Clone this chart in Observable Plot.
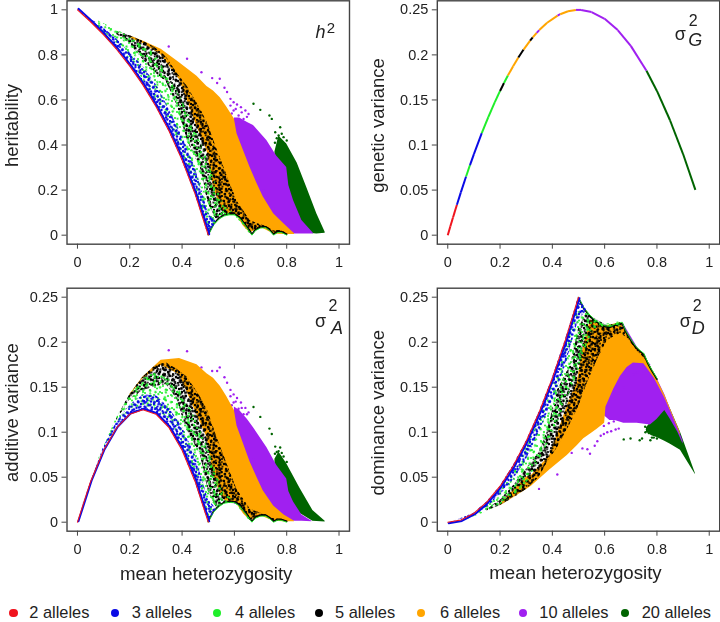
<!DOCTYPE html>
<html><head><meta charset="utf-8">
<script src="https://cdn.jsdelivr.net/npm/d3@7"></script>
<script src="https://cdn.jsdelivr.net/npm/@observablehq/plot@0.6"></script>
<style>
html,body{margin:0;padding:0;background:#fff}
#page{position:relative;width:720px;height:622px;overflow:hidden;font-family:"Liberation Sans",Arial,sans-serif;color:#222}
#page svg.plot{position:absolute;overflow:visible;background:transparent;filter:blur(0.4px)}
.lg{position:absolute;top:603px;font-size:16.4px;line-height:19px;white-space:nowrap}
.sw{position:absolute;top:608.5px;width:8.5px;height:8.5px;border-radius:50%}
</style></head><body><div id="page"></div>
<svg width="0" height="0" style="position:absolute"><defs>
<pattern id="spkBlack" width="19" height="17" patternUnits="userSpaceOnUse"><g fill="#000"><circle cx="1" cy="2" r="1.2"/><circle cx="3" cy="3" r="1.2"/><circle cx="7" cy="1" r="1.1"/><circle cx="11" cy="3" r="1.2"/><circle cx="12.5" cy="5" r="1.2"/><circle cx="17" cy="2" r="1.1"/><circle cx="5" cy="6" r="1.2"/><circle cx="8" cy="7" r="1.2"/><circle cx="16" cy="7" r="1.2"/><circle cx="2" cy="9" r="1.1"/><circle cx="11" cy="10" r="1.2"/><circle cx="13" cy="9" r="1.1"/><circle cx="18" cy="11" r="1.2"/><circle cx="5" cy="12" r="1.2"/><circle cx="7" cy="13" r="1.2"/><circle cx="15" cy="14" r="1.2"/><circle cx="1" cy="15" r="1.1"/><circle cx="10" cy="15.5" r="1.2"/></g></pattern>
<pattern id="spkBlack2" href="#spkBlack" patternTransform="rotate(37) scale(1.13)"/>
<pattern id="spkBlack3" href="#spkBlack" patternTransform="rotate(71) scale(0.87)"/>
<pattern id="spkGreen" width="17" height="21" patternUnits="userSpaceOnUse"><g fill="#1fee2a"><circle cx="2" cy="2" r="1.1"/><circle cx="4" cy="3.5" r="1.1"/><circle cx="10" cy="1" r="1"/><circle cx="14" cy="5" r="1.1"/><circle cx="7" cy="7" r="1.1"/><circle cx="9" cy="8" r="1.1"/><circle cx="1" cy="10" r="1"/><circle cx="15" cy="11" r="1.1"/><circle cx="5" cy="13" r="1.1"/><circle cx="11" cy="14" r="1.1"/><circle cx="13" cy="15.5" r="1"/><circle cx="2" cy="17" r="1.1"/><circle cx="7" cy="19" r="1.1"/><circle cx="15" cy="19.5" r="1"/></g></pattern>
<pattern id="spkGreen2" href="#spkGreen" patternTransform="rotate(53) scale(1.09)"/>
<pattern id="spkBlue" width="13" height="15" patternUnits="userSpaceOnUse"><g fill="#0a0ae6"><circle cx="1" cy="1" r="1.2"/><circle cx="3" cy="2" r="1.1"/><circle cx="8" cy="1.5" r="1.2"/><circle cx="11" cy="4" r="1.2"/><circle cx="5.5" cy="5" r="1.2"/><circle cx="1.5" cy="6.5" r="1.1"/><circle cx="9" cy="7.5" r="1.2"/><circle cx="12" cy="9" r="1.1"/><circle cx="4" cy="9.5" r="1.2"/><circle cx="6.5" cy="11" r="1.1"/><circle cx="1" cy="12" r="1.2"/><circle cx="10" cy="12.5" r="1.2"/><circle cx="4" cy="14" r="1"/></g></pattern>
<pattern id="spkBlue2" href="#spkBlue" patternTransform="rotate(29) scale(1.17)"/>
</defs></svg>
<script>
// ---------- legend ----------
const alleles = ["2 alleles","3 alleles","4 alleles","5 alleles","6 alleles","10 alleles","20 alleles"];
const alleleColors = ["#f0141e","#0a0ae6","#1fee2a","#000000","#ffa500","#a020f0","#006400"];
const xTicks = [0,0.2,0.4,0.6,0.8,1];
const h2Ticks = [0,0.2,0.4,0.6,0.8,1];
const varTicks = [0,0.05,0.1,0.15,0.2,0.25];

// ---------- heritability, [x, lower, upper] bands read from the clouds ----------
const h2Red = [[0,1],[.05,.947],[.1,.889],[.15,.824],[.2,.75],[.25,.667],[.3,.571],[.35,.462],[.4,.333],[.45,.182],[.5,0]];
const h2Edge = [[.5,0],[.52,.045],[.54,.07],[.56,.085],[.58,.09],[.6,.09],[.62,.075],[.64,.045],[.667,0],[.68,.02],[.7,.032],[.72,.033],[.735,.02],[.75,0],[.765,.012],[.78,.012],[.8,0]];
const h2Dark = [[.755,.30,.37],[.77,.2,.44],[.8,.15,.405],[.84,.05,.32],[.877,.01,.21],[.915,.005,.095],[.947,.008,.013]];
const h2Purple = [[.6,.1,.52],[.62,.1,.52],[.65,.07,.50],[.673,.05,.487],[.724,.03,.42],[.762,.01,.35],[.8,.005,.3],[.808,.005,.22],[.826,.005,.154],[.858,.005,.065],[.902,.005,.008]];
const h2Orange = [[.2,.875,.885],[.25,.85,.862],[.32,.8,.825],[.39,.69,.765],[.457,.48,.705],[.495,.376,.66],[.52,.213,.64],[.546,.124,.61],[.57,.09,.57],[.6,.09,.515],[.61,.085,.45],[.635,.04,.375],[.66,.01,.30],[.686,.025,.23],[.71,.03,.17],[.75,.005,.095],[.79,.003,.05],[.83,.003,.006]];
const h2Black = [[.15,.89,.905],[.2,.85,.885],[.25,.78,.86],[.3,.72,.83],[.34,.68,.79],[.38,.58,.72],[.42,.42,.66],[.47,.3,.56],[.5,.14,.49],[.53,.07,.39],[.57,.087,.27],[.61,.088,.15],[.66,.01,.065],[.69,.028,.05],[.72,.033,.04],[.75,.003,.02],[.78,.012,.02],[.8,.002,.008]];
const h2Green = [[.08,.92,.95],[.15,.85,.91],[.2,.78,.88],[.25,.69,.85],[.3,.6,.8],[.35,.5,.7],[.4,.37,.6],[.45,.2,.47],[.5,.02,.33],[.53,.055,.22],[.56,.085,.13],[.6,.09,.095],[.66,.005,.02]];
const h2Blue = [[0,1,1],[.02,.98,.985],[.1,.889,.92],[.15,.824,.87],[.2,.75,.81],[.25,.667,.75],[.3,.571,.67],[.35,.462,.56],[.4,.333,.44],[.45,.182,.3],[.5,0,.1],[.53,.055,.06]];
const h2PurpleDots = [[.349,.837],[.419,.783],[.474,.723],[.515,.697],[.534,.675],[.544,.694],[.562,.654],[.572,.635],[.585,.605],[.597,.59],[.61,.58],[.625,.568],[.642,.553],[.654,.538],[.597,.553],[.616,.531],[.635,.516],[.604,.405],[.629,.413],[.654,.368],[.673,.317],[.667,.272],[.693,.243],[.712,.198],[.724,.169],[.75,.117],[.762,.08],[.648,.302],[.585,.575],[.605,.56],[.628,.545],[.59,.54],[.648,.525]];
const h2DarkDots = [[.673,.583],[.699,.556],[.734,.531],[.743,.516],[.756,.457],[.775,.479],[.781,.45],[.788,.435],[.769,.442],[.80,.42],[.803,.346],[.794,.257],[.813,.228],[.762,.43],[.775,.42],[.755,.41]];

// ---------- genetic variance, one thin curve coloured by the allele that shows on top ----------
const gvX = [0,.01,.02,.035,.05,.07,.085,.1,.13,.155,.18,.2,.215,.23,.25,.27,.29,.315,.325,.34,.35,.38,.42,.43,.46,.49,.51,.55,.6,.65,.7,.76,.8,.85,.9,.947];
const gvY = [0,.0099,.0196,.0338,.0475,.0651,.0778,.09,.1131,.131,.1476,.16,.1688,.1771,.1875,.1971,.2059,.2158,.2194,.2244,.2275,.2356,.2436,.2451,.2484,.2499,.2499,.2475,.24,.2275,.21,.1824,.16,.1275,.09,.0502];
const gvAllele = ["2 alleles","2 alleles","2 alleles","3 alleles","3 alleles","4 alleles","3 alleles","3 alleles","4 alleles","4 alleles","4 alleles","5 alleles","4 alleles","6 alleles","6 alleles","5 alleles","6 alleles","5 alleles","6 alleles","10 alleles","6 alleles","6 alleles","10 alleles","6 alleles","6 alleles","10 alleles","10 alleles","10 alleles","10 alleles","10 alleles","10 alleles","20 alleles","20 alleles","20 alleles","20 alleles"];

// ---------- additive variance ----------
const a2Red = [[0,0],[.05,.045],[.1,.08],[.15,.105],[.2,.12],[.25,.125],[.3,.12],[.35,.105],[.4,.08],[.45,.045],[.5,0]];
const a2Edge = [[.5,0],[.52,.011],[.54,.017],[.56,.021],[.58,.022],[.6,.0216],[.62,.018],[.64,.0104],[.667,0],[.68,.0044],[.7,.0067],[.72,.0067],[.735,.0039],[.75,0],[.765,.0022],[.78,.002],[.8,0]];
const a2Dark = [[.755,.05,.07],[.77,.04,.078],[.8,.03,.065],[.85,.01,.038],[.9,.001,.013],[.947,.0003,.001]];
const a2Purple = [[.6,.02,.128],[.62,.02,.124],[.65,.015,.114],[.673,.011,.105],[.724,.006,.083],[.762,.002,.063],[.8,.001,.048],[.808,.001,.034],[.826,.001,.0225],[.858,.001,.008],[.896,.0005,.001]];
const a2Orange = [[.2,.14,.1416],[.25,.159,.161],[.32,.174,.18],[.39,.164,.182],[.457,.119,.175],[.495,.094,.165],[.52,.053,.16],[.546,.031,.151],[.57,.022,.14],[.6,.0216,.124],[.61,.02,.107],[.635,.009,.087],[.66,.002,.067],[.686,.005,.05],[.71,.006,.035],[.75,.001,.018],[.79,.0005,.008],[.83,.0004,.001]];
const a2Black = [[.15,.113,.115],[.2,.136,.1416],[.25,.146,.161],[.3,.151,.174],[.34,.153,.177],[.38,.137,.17],[.42,.102,.161],[.47,.075,.139],[.5,.035,.1225],[.53,.017,.097],[.57,.021,.066],[.61,.021,.036],[.66,.002,.0146],[.69,.006,.011],[.72,.0067,.008],[.75,.0006,.0038],[.78,.002,.003],[.8,.0003,.0013]];
const a2Green = [[.08,.068,.07],[.15,.108,.116],[.2,.125,.141],[.25,.129,.159],[.3,.126,.168],[.35,.114,.159],[.4,.089,.144],[.45,.05,.116],[.5,.005,.0825],[.53,.014,.055],[.56,.021,.032],[.6,.0216,.023],[.66,.001,.004]];
const a2Blue = [[0,0,0],[.02,.0192,.0193],[.1,.08,.083],[.15,.105,.111],[.2,.12,.13],[.25,.125,.141],[.3,.12,.141],[.35,.105,.127],[.4,.08,.106],[.45,.045,.074],[.5,0,.025],[.53,.014,.015]];
const a2PurpleDots = [[.349,.191],[.419,.19],[.474,.172],[.515,.168],[.534,.168],[.544,.172],[.562,.161],[.572,.155],[.585,.147],[.597,.142],[.61,.138],[.625,.133],[.642,.127],[.654,.122],[.597,.133],[.616,.126],[.635,.12],[.604,.097],[.629,.096],[.654,.083],[.673,.07],[.667,.06],[.693,.052],[.712,.041],[.724,.034],[.75,.022],[.762,.0145],[.648,.069],[.585,.14],[.605,.134],[.628,.127],[.59,.13],[.648,.12]];
const a2DarkDots = [[.673,.128],[.699,.117],[.734,.104],[.743,.098],[.756,.084],[.775,.083],[.781,.077],[.788,.073],[.769,.079],[.80,.067],[.803,.055],[.794,.042],[.813,.035],[.762,.078],[.775,.073],[.755,.076]];

// ---------- dominance variance ----------
const d2Red = [[0,0],[.05,.0025],[.1,.01],[.15,.0225],[.2,.04],[.25,.0625],[.3,.09],[.35,.1225],[.4,.16],[.45,.2025],[.5,.25]];
const d2Edge = [[.5,.25],[.52,.2386],[.54,.2314],[.56,.2254],[.58,.2216],[.6,.2184],[.62,.2176],[.64,.22],[.667,.2222],[.68,.2132],[.7,.2033],[.72,.195],[.735,.191],[.75,.1875],[.765,.1775],[.78,.1696],[.8,.16]];
const d2Dark = [[.76,.1,.105],[.78,.096,.112],[.8,.094,.125],[.83,.09,.14],[.85,.087,.127],[.89,.08,.1],[.947,.053,.054]];
const d2Purple = [[.6,.118,.2184],[.62,.113,.2176],[.64,.113,.22],[.673,.11,.22],[.724,.11,.195],[.775,.108,.172],[.8,.114,.16],[.83,.124,.142],[.85,.115,.127],[.88,.1,.105],[.9,.087,.09]];
const d2Orange = [[.2,.018,.02],[.3,.036,.05],[.32,.04,.052],[.39,.058,.074],[.457,.074,.129],[.495,.085,.156],[.52,.0926,.197],[.546,.098,.225],[.57,.103,.222],[.6,.11,.2184],[.605,.128,.218],[.635,.148,.22],[.66,.162,.222],[.686,.172,.21],[.71,.177,.198],[.75,.176,.187],[.79,.16,.165],[.83,.138,.141],[.86,.118,.12],[.89,.097,.099]];
const d2Black = [[.15,.0125,.0145],[.2,.0184,.024],[.25,.0265,.04],[.3,.036,.059],[.35,.05,.0775],[.38,.066,.1],[.42,.083,.147],[.47,.11,.174],[.5,.128,.215],[.53,.152,.232],[.57,.179,.225],[.61,.202,.218],[.66,.21,.222],[.69,.204,.208],[.72,.192,.195],[.76,.18,.182],[.8,.158,.16]];
const d2Green = [[.08,.0036,.0056],[.15,.0115,.0195],[.2,.019,.035],[.25,.0285,.0585],[.3,.042,.084],[.35,.0685,.1135],[.4,.096,.151],[.45,.1315,.1975],[.5,.1675,.245],[.53,.194,.235],[.56,.2144,.2254],[.6,.216,.2195],[.66,.218,.223]];
const d2Blue = [[0,0,0],[.02,.0003,.0004],[.1,.007,.01],[.15,.0165,.0225],[.2,.03,.04],[.25,.0465,.0625],[.3,.069,.09],[.35,.1005,.1225],[.4,.134,.16],[.45,.1735,.2025],[.5,.225,.25],[.53,.234,.236]];
const d2PurpleDots = [[.349,.037],[.419,.053],[.474,.077],[.515,.082],[.534,.081],[.544,.076],[.562,.085],[.572,.09],[.585,.096],[.597,.098],[.61,.1],[.625,.101],[.642,.103],[.654,.104],[.597,.107],[.616,.11],[.635,.112],[.604,.142],[.629,.137],[.654,.143],[.673,.15],[.667,.162],[.693,.161],[.712,.164],[.724,.166],[.75,.1655],[.762,.1665],[.648,.159],[.7,.178],[.74,.179],[.77,.175]];
const d2DarkDots = [[.673,.092],[.699,.093],[.734,.091],[.743,.093],[.756,.1],[.775,.091],[.781,.094],[.788,.094],[.769,.099],[.80,.093],[.803,.103],[.794,.122],[.813,.117],[.762,.103],[.775,.102],[.755,.106]];

// ---------- drawing ----------
const FONT = '"Liberation Sans",Arial,sans-serif', INK = "#222", FRAME = "#444";
const band = (rows, fill) => Plot.areaY(rows, {x: d => d[0], y1: d => d[1], y2: d => d[2], fill, curve: "linear"});
const pts = (rows, allele) => Plot.dot(rows, {x: d => d[0], y: d => d[1], r: 1.2, fill: () => allele});
const path = (rows, stroke, w, extra = {}) => Plot.line(rows, {x: d => d[0], y: d => d[1], stroke, strokeWidth: w, ...extra});
const lbl = (t, dx, dy, size, style = "normal") => Plot.text([t], {frameAnchor: "top-left", dx, dy, fontSize: size, fontStyle: style, textAnchor: "middle", lineAnchor: "middle", fill: INK});

function clouds(b, edgeShift) {
  return [
    band(b.dark, "#006400"), pts(b.darkDots, "20 alleles"),
    band(b.purple, "#a020f0"), pts(b.purpleDots, "10 alleles"),
    band(b.orange, "#ffa500"),
    band(b.black, "url(#spkBlack)"), band(b.black, "url(#spkBlack2)"), band(b.black, "url(#spkBlack3)"),
    path(b.edge, "#000", 1.6, {dy: edgeShift}),
    band(b.green, "url(#spkGreen)"), band(b.green, "url(#spkGreen2)"),
    path(b.edge, "#1fee2a", 0.9),
    band(b.blue, "url(#spkBlue)"), band(b.blue, "url(#spkBlue2)"),
    path(b.red, "#0a0ae6", 2, {dx: 1, dy: edgeShift}),
    path(b.red, "#f0141e", 1.1)
  ];
}

function panel({left, top, col, yDomain, yTicks, yTitle, yTitleDy, xTitle, xTitleDx, xTitleDy, labels, marks}) {
  const ml = col === 0 ? 66.5 : 76.8, mr = col === 0 ? 11 : 0.8;
  const height = 243.7 + (top ? 7 : 0) + 36;
  const p = Plot.plot({
    width: 360, height,
    marginLeft: ml, marginRight: mr,
    marginTop: top ? 7.7 : 0.3, marginBottom: height - (top ? 250.7 : 243.7),
    x: {domain: [-0.04, 1.04], axis: null},
    y: {domain: yDomain, axis: null},
    color: {domain: alleles, range: alleleColors},
    style: {fontFamily: FONT, background: "transparent", overflow: "visible"},
    marks: [
      ...marks,
      Plot.frame({stroke: FRAME, strokeWidth: 1.4}),
      Plot.axisX({ticks: xTicks, tickFormat: d => String(d), tickSize: 5, tickPadding: 8, fontSize: 14.5, label: null, stroke: FRAME, color: INK, anchor: "bottom"}),
      Plot.axisY({ticks: yTicks, tickFormat: d => String(d), tickSize: 5, tickPadding: 4, fontSize: 14.5, label: null, stroke: FRAME, color: INK, anchor: "left"}),
      Plot.text([yTitle], {frameAnchor: "left", rotate: -90, textAnchor: "middle", dx: col === 0 ? -54.8 : -58.8, dy: yTitleDy, fontSize: 18.5, fill: INK}),
      ...(xTitle ? [Plot.text([xTitle], {frameAnchor: "bottom", dx: xTitleDx, dy: xTitleDy, fontSize: 18.7, fill: INK})] : []),
      ...labels
    ]
  });
  p.style.left = left + "px";
  p.style.top = (top ? 280 : 0) + "px";
  p.classList.add("plot");
  document.getElementById("page").appendChild(p);
}

panel({left: 0, top: false, col: 0, yDomain: [-0.04, 1.04], yTicks: h2Ticks, yTitle: "heritability", yTitleDy: 3,
  labels: [lbl("h", 253.5, 31, 18, "italic"), lbl("2", 264, 27, 15)],
  marks: clouds({dark: h2Dark, darkDots: h2DarkDots, purple: h2Purple, purpleDots: h2PurpleDots, orange: h2Orange, black: h2Black, green: h2Green, blue: h2Blue, red: h2Red, edge: h2Edge}, -1)});

panel({left: 360, top: false, col: 1, yDomain: [-0.01, 0.26], yTicks: varTicks, yTitle: "genetic variance", yTitleDy: 3,
  labels: [lbl("σ", 243, 33, 18), lbl("2", 256, 20, 16), lbl("G", 258, 39, 18, "italic")],
  marks: [Plot.link(gvX.slice(1).map((x, i) => ({x1: gvX[i], y1: gvY[i], x2: x, y2: gvY[i + 1], a: gvAllele[i]})),
    {x1: "x1", y1: "y1", x2: "x2", y2: "y2", stroke: "a", strokeWidth: 2})]});

panel({left: 0, top: true, col: 0, yDomain: [-0.01, 0.26], yTicks: varTicks, yTitle: "additive variance", yTitleDy: 3,
  xTitle: "mean heterozygosity", xTitleDx: -2, xTitleDy: 49,
  labels: [lbl("σ", 253.5, 33, 18), lbl("2", 266, 18, 16), lbl("A", 270, 40, 18, "italic")],
  marks: clouds({dark: a2Dark, darkDots: a2DarkDots, purple: a2Purple, purpleDots: a2PurpleDots, orange: a2Orange, black: a2Black, green: a2Green, blue: a2Blue, red: a2Red, edge: a2Edge}, -1)});

panel({left: 360, top: true, col: 1, yDomain: [-0.01, 0.26], yTicks: varTicks, yTitle: "dominance variance", yTitleDy: 3,
  xTitle: "mean heterozygosity", xTitleDx: -3, xTitleDy: 47.5,
  labels: [lbl("σ", 248, 33, 18), lbl("2", 260, 18, 16), lbl("D", 261, 40, 18, "italic")],
  marks: clouds({dark: d2Dark, darkDots: d2DarkDots, purple: d2Purple, purpleDots: d2PurpleDots, orange: d2Orange, black: d2Black, green: d2Green, blue: d2Blue, red: d2Red, edge: d2Edge}, 1)});

const swatchX = [9, 110.5, 212.5, 314.5, 416.5, 518.5, 620.5];
const legendX = [29.3, 131.7, 235, 335, 440, 539.3, 641.7];
const page = document.getElementById("page");
alleles.forEach((a, i) => {
  const s = document.createElement("span"); s.className = "sw"; s.style.left = swatchX[i] + "px"; s.style.background = alleleColors[i]; page.appendChild(s);
  const t = document.createElement("span"); t.className = "lg"; t.style.left = legendX[i] + "px"; t.textContent = a; page.appendChild(t);
});
</script></body></html>
